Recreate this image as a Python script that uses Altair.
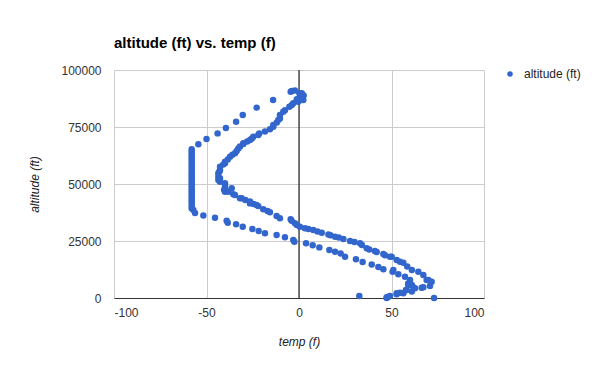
import altair as alt
import pandas as pd

# Dense branch (ascent)
ascent_temp = [47.4, 49.2, 52.8, 56.4, 58.2, 61, 62.7, 67.2, 70.8, 71.7, 69.9, 67.2, 64.5, 61, 58.5,
               56.4, 54.6, 52.8, 50.1, 49.2, 46.5, 45.6, 42, 41, 38, 36.6, 34, 33, 30, 27.6, 24,
               21.5, 19.5, 17, 15.9, 12.3, 10, 7.7, 5, 3.2, 0.5, -1.2, -2.2, -4, -4.5, -10.3, -12.1,
               -15.7, -17, -19.3, -22, -22.9, -24.5, -26.5, -26.5, -29, -31, -31.9, -34.6, -35.5,
               -38.2, -40, -40.5, -40, -36.4, -40, -40, -42.7, -43.6, -42.7, -43.6, -43.6, -43,
               -42.7, -42.7, -41, -40, -40, -38.5, -37.3, -36, -34.6, -33.7, -32.8, -31.9, -30.1,
               -30.1, -28, -26.5, -25.6, -24.7, -22, -21.5, -18.4, -15.7, -13.9, -13.9, -12, -11.2,
               -10.3, -10.3, -8.5, -7.6, -5.2, -3.9, -3.1, -1.2, 0.5, 0.5, 0.2, 1.5, -2.2, -3.9,
               -4.5, 2.5, 2.3, -0.4, 32.6, 73, 47.4, 59, 61, 66.3, 69]
ascent_alt = [300, 900, 2100, 2100, 3500, 2800, 4300, 4700, 5300, 7100, 7900, 10100, 11500, 12300, 13800,
              15500, 15900, 16700, 18100, 18100, 18800, 19300, 20200, 20600, 21300, 21800, 23200, 24000,
              24600, 25000, 25900, 26500, 26900, 27500, 27900, 28600, 29200, 29800, 30300, 30600, 31300,
              32000, 32800, 33900, 34500, 35000, 36000, 37600, 38200, 38900, 40300, 40800, 41200, 41500,
              42300, 43000, 43700, 43700, 45200, 45500, 46600, 46600, 47500, 48100, 48100, 49600, 50300,
              51000, 51800, 52500, 53200, 54700, 55500, 56100, 57600, 58500, 59100, 59800, 60800, 62000,
              62800, 63500, 64500, 65600, 66400, 67500, 67900, 68600, 69300, 69800, 70700, 71500, 72200,
              73000, 74000, 75100, 75900, 77000, 78100, 78700, 80300, 81700, 82300, 83900, 84600, 85400,
              87200, 87600, 88300, 89800, 89800, 91000, 90800, 90500, 88800, 86800, 86100, 900, 0, 0,
              6400, 5700, 4500, 7900]

# Sparse branch (descent), including the flat -58 segment
descent_temp = [-14, -22.9, -30.4, -34, -39.5, -44, -50, -54.4, -58,
                -58, -58, -58, -58, -58, -58, -58, -58, -58, -58, -58, -58, -58, -58,
                -58, -58, -58, -58, -58, -58, -58, -58, -58, -58, -58, -58, -57.1,
                -56.2, -51.7, -45.4, -39.1, -38.5, -34, -30.4, -25.2, -21.8, -18.4, -12.1, -7.6,
                -3.1, -2.5, 3.8, 7.4, 11, 16.4, 19.5, 22.5, 24.9, 30.8, 34.4, 39.3, 42.9, 45.6,
                50.6, 51, 53.7, 57.3, 60, 59.1, 61.8, 57.8, 54.6, 52.8, 48.3]
descent_alt = [86800, 83500, 80300, 77300, 74600, 72200, 69700, 67400, 65200,
               64300, 63300, 62300, 61300, 60300, 59300, 58300, 57300, 56300, 55300, 54300, 53300,
               52300, 51300, 50300, 49300, 48300, 47300, 46300, 45300, 44300, 43300, 42300, 41300,
               40300, 39300, 38600,
               37300, 36200, 35200, 33900, 33000, 32300, 31300, 30300, 29400, 28400, 27600, 26600,
               25400, 24700, 24000, 23100, 22200, 21100, 20300, 19500, 18100, 17000, 15800, 14700,
               13600, 12600, 11500, 12300, 10400, 9300, 7900, 5700, 4700, 3500, 2300, 1600, 600]

x_ticks = [-100, -50, 0, 50, 100]
y_ticks = [0, 25000, 50000, 75000, 100000]
series_name = "altitude (ft)"

df = pd.DataFrame({
    "temp": ascent_temp + descent_temp,
    "alt": ascent_alt + descent_alt,
})
df["series"] = series_name

FONT = "Liberation Sans"

zero = alt.Chart(pd.DataFrame({"x": [0]})).mark_rule(color="#000000", strokeWidth=1).encode(
    x=alt.X("x:Q", scale=alt.Scale(domain=[-100, 100], nice=False))
)

points = alt.Chart(df).mark_circle(size=42, opacity=1).encode(
    x=alt.X("temp:Q", scale=alt.Scale(domain=[-100, 100], nice=False),
            axis=alt.Axis(values=x_ticks, title="temp (f)", titleFontStyle="italic",
                          labelExpr="'' + datum.value",
                          titleFontWeight="normal", titleFontSize=12, labelFontSize=12,
                          labelColor="#333333", titleColor="#222222",
                          tickSize=0, labelPadding=9, titlePadding=18,
                          domainColor="#333333", gridColor="#cccccc", labelFont=FONT, titleFont=FONT)),
    y=alt.Y("alt:Q", scale=alt.Scale(domain=[0, 100000], nice=False),
            axis=alt.Axis(values=y_ticks, format="d", title="altitude (ft)", titleFontStyle="italic",
                          titleFontWeight="normal", titleFontSize=12, labelFontSize=12,
                          labelColor="#333333", titleColor="#222222",
                          tickSize=0, labelPadding=13, titlePadding=19, domain=False,
                          gridColor="#cccccc", labelFont=FONT, titleFont=FONT)),
    color=alt.Color("series:N", scale=alt.Scale(domain=[series_name], range=["#3366cc"]),
                    legend=alt.Legend(title=None, orient="none", legendX=390, legendY=-2,
                                      symbolType="circle", symbolSize=30, labelFontSize=12,
                                      labelFont=FONT, labelColor="#222222", labelOffset=8)),
)

chart = alt.layer(zero, points).properties(
    width=370, height=228,
    title=alt.TitleParams("altitude (ft) vs. temp (f)", anchor="start", frame="group", fontSize=15,
                          fontWeight="bold", font=FONT, color="#000000", offset=13),
    autosize=alt.AutoSizeParams(type="none"),
    padding={"left": 106, "top": 62, "right": 100, "bottom": 60},
).configure_view(strokeWidth=0)

chart.save("out.html", embed_options={"renderer": "svg", "actions": False})
